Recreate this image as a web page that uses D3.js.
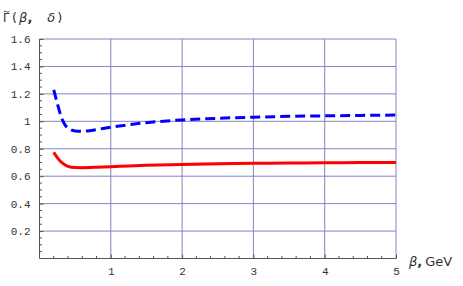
<!DOCTYPE html>
<html>
<head>
<meta charset="utf-8">
<script src="https://cdn.jsdelivr.net/npm/d3@7"></script>
<style>
  body { margin: 0; background: #fff; }
  svg text { fill: #333; }
</style>
</head>
<body>
<svg width="463" height="286"></svg>
<script>
// values
var beta = [0.2, 0.25, 0.3, 0.35, 0.4, 0.5, 0.6, 0.7, 0.8, 1.0, 1.25, 1.5, 2, 2.5, 3, 3.5, 4, 4.5, 5];
var redVals = [0.775, 0.735, 0.705, 0.685, 0.672, 0.663, 0.662, 0.663, 0.665, 0.669, 0.674, 0.679, 0.686, 0.691, 0.694, 0.696, 0.698, 0.699, 0.70];
var blueVals = [1.23, 1.13, 1.04, 0.98, 0.95, 0.93, 0.928, 0.932, 0.94, 0.957, 0.975, 0.99, 1.01, 1.022, 1.03, 1.036, 1.04, 1.043, 1.046];
var xTicks = [1, 2, 3, 4, 5];
var yTicks = [0.2, 0.4, 0.6, 0.8, 1, 1.2, 1.4, 1.6];
var yTickLabels = ["0.2", "0.4", "0.6", "0.8", "1", "1.2", "1.4", "1.6"];

var svg = d3.select("svg");

var x = d3.scaleLinear().domain([0, 5]).range([39.5, 396]);
var y = d3.scaleLinear().domain([0, 1.6]).range([258.5, 39]);

// grid
var grid = svg.append("g").attr("stroke", "#8282c4").attr("stroke-width", 1);
grid.selectAll("line.h").data(yTicks).enter().append("line")
    .attr("x1", x(0)).attr("x2", x(5))
    .attr("y1", function(d) { return y(d); })
    .attr("y2", function(d) { return y(d); });
grid.selectAll("line.v").data(xTicks).enter().append("line")
    .attr("y1", y(0)).attr("y2", y(1.6))
    .attr("x1", function(d) { return x(d); })
    .attr("x2", function(d) { return x(d); });

// axes, ticks pointing inward
var xAxis = d3.axisBottom(x).tickValues(xTicks).tickSize(-4).tickPadding(9)
    .tickFormat(d3.format("d"));
var gx = svg.append("g").attr("transform", "translate(0," + y(0) + ")").call(xAxis);
var xMinor = d3.range(0, 5.001, 0.2).filter(function(v) { return Math.abs(v - Math.round(v)) > 1e-6; });
gx.selectAll("line.minor").data(xMinor).enter().append("line")
    .attr("x1", function(d) { return x(d); }).attr("x2", function(d) { return x(d); })
    .attr("y1", 0).attr("y2", -2.5);

var yAxis = d3.axisLeft(y).tickValues(yTicks).tickSize(-4).tickPadding(9)
    .tickFormat(function(d, i) { return yTickLabels[i]; });
var gy = svg.append("g").attr("transform", "translate(" + x(0) + ",0)").call(yAxis);
var yMinor = d3.range(0.05, 1.6, 0.05).filter(function(v) { return Math.abs(v / 0.2 - Math.round(v / 0.2)) > 1e-6; });
gy.selectAll("line.minor").data(yMinor).enter().append("line")
    .attr("y1", function(d) { return y(d); }).attr("y2", function(d) { return y(d); })
    .attr("x1", 0).attr("x2", 2.5);

[gx, gy].forEach(function(g) {
  g.select(".domain").attr("stroke", "#555");
  g.selectAll("line").attr("stroke", "#555");
  g.selectAll("text").attr("font-family", "'Liberation Mono', monospace")
    .attr("font-size", 11).attr("fill", "#444");
});
gx.select(".domain").attr("d", "M" + x(0) + ",0H" + x(5));
gy.select(".domain").attr("d", "M0," + y(0) + "V" + y(1.6));

// curves
var line = d3.line()
    .x(function(d) { return x(d[0]); })
    .y(function(d) { return y(d[1]); })
    .curve(d3.curveMonotoneX);

svg.append("path")
    .datum(d3.zip(beta, redVals))
    .attr("fill", "none").attr("stroke", "#ff0000").attr("stroke-width", 3)
    .attr("d", line);

svg.append("path")
    .datum(d3.zip(beta, blueVals))
    .attr("fill", "none").attr("stroke", "#0000ff").attr("stroke-width", 3)
    .attr("stroke-dasharray", "10,5")
    .attr("d", line);

// title: Gamma with a drawn tilde
var tf = "'DejaVu Sans', sans-serif";
svg.append("text").attr("x", 3).attr("y", 22).attr("font-family", tf)
    .attr("font-size", 11.5).attr("fill", "#444").text("\u0393");
svg.append("path").attr("d", "M3.5,12 Q5,10.2 6.5,11.6 Q8,13 9.5,11.2")
    .attr("fill", "none").attr("stroke", "#444").attr("stroke-width", 0.9);
var title = svg.append("text").attr("x", 12).attr("y", 22)
    .attr("font-family", tf).attr("font-size", 13).attr("fill", "#444");
title.append("tspan").text("(");
title.append("tspan").attr("dx", 2).attr("font-style", "italic").text("\u03B2");
title.append("tspan").attr("font-weight", "bold").text(",");
title.append("tspan").attr("dx", 15).attr("font-style", "italic").text("\u03B4");
title.append("tspan").attr("dx", 2).text(")");

var xl = svg.append("text").attr("x", 409).attr("y", 266)
    .attr("font-family", tf).attr("font-size", 13).attr("fill", "#444");
xl.append("tspan").attr("font-style", "italic").text("\u03B2");
xl.append("tspan").attr("font-weight", "bold").text(",");
xl.append("tspan").attr("dx", 3).text("GeV");
</script>
</body>
</html>
